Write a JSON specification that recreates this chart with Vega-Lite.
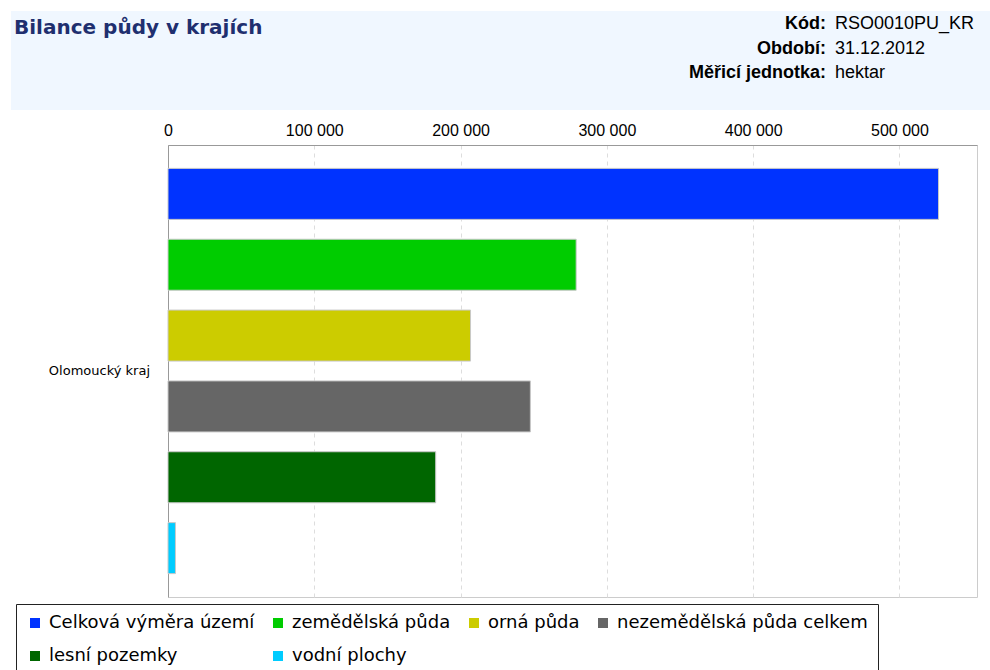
{
  "$schema": "https://vega.github.io/schema/vega-lite/v6.json",
  "padding": {"left": 11, "top": 11, "right": 0, "bottom": 0},
  "background": "white",
  "spacing": 11,
  "resolve": {"legend": {"color": "independent"}},
  "config": {"view": {"stroke": null}},
  "datasets": {
    "bilance": [
      {"kraj": "Olomoucký kraj", "ukazatel": "Celková výměra území", "hodnota": 526700},
      {"kraj": "Olomoucký kraj", "ukazatel": "zemědělská půda", "hodnota": 279000},
      {"kraj": "Olomoucký kraj", "ukazatel": "orná půda", "hodnota": 206800},
      {"kraj": "Olomoucký kraj", "ukazatel": "nezemědělská půda celkem", "hodnota": 247700},
      {"kraj": "Olomoucký kraj", "ukazatel": "lesní pozemky", "hodnota": 183000},
      {"kraj": "Olomoucký kraj", "ukazatel": "vodní plochy", "hodnota": 5100}
    ]
  },
  "vconcat": [
    {
      "width": 979,
      "height": 99,
      "view": {"fill": "#f0f7ff", "stroke": null},
      "layer": [
        {
          "data": {"values": [{"nazev": "Bilance půdy v krajích"}]},
          "mark": {"type": "text", "align": "left", "baseline": "middle", "font": "DejaVu Sans", "fontSize": 20, "fontWeight": "bold", "color": "#1f2f6f"},
          "encoding": {"x": {"value": 3}, "y": {"value": 17}, "text": {"field": "nazev"}}
        },
        {
          "data": {"values": [
            {"line": 1, "label": "Kód:", "value": "RSO0010PU_KR"},
            {"line": 2, "label": "Období:", "value": "31.12.2012"},
            {"line": 3, "label": "Měřicí jednotka:", "value": "hektar"}
          ]},
          "encoding": {"y": {"field": "line", "type": "ordinal", "scale": {"type": "point", "range": [13, 62], "padding": 0}, "axis": null}},
          "layer": [
            {"mark": {"type": "text", "align": "right", "baseline": "middle", "font": "Liberation Sans", "fontSize": 18, "fontWeight": "bold", "color": "#000000"},
             "encoding": {"x": {"value": 815}, "text": {"field": "label"}}},
            {"mark": {"type": "text", "align": "left", "baseline": "middle", "font": "Liberation Sans", "fontSize": 18, "color": "#000000"},
             "encoding": {"x": {"value": 824}, "text": {"field": "value"}}}
          ]
        }
      ]
    },
    {
      "resolve": {"legend": {"color": "independent"}},
      "bounds": "flush",
      "spacing": 18,
      "hconcat": [
        {
          "width": 139,
          "height": 452,
          "view": {"stroke": null, "fill": null},
          "data": {"name": "bilance"},
          "transform": [{"aggregate": [{"op": "count", "as": "n"}], "groupby": ["kraj"]}],
          "mark": {"type": "text", "align": "right", "baseline": "middle", "font": "DejaVu Sans", "fontSize": 13, "color": "#000000"},
          "encoding": {
            "x": {"value": "width"},
            "y": {"field": "kraj", "type": "nominal", "scale": {"paddingInner": 0, "paddingOuter": 0}, "axis": null},
            "text": {"field": "kraj"}
          }
        },
        {
          "width": 809,
          "height": 452,
          "view": {"stroke": "#cccccc", "fill": "white"},
          "data": {"name": "bilance"},
          "mark": {"type": "bar", "stroke": "#c8c8c8", "strokeWidth": 1},
          "encoding": {
            "x": {"field": "hodnota", "type": "quantitative",
              "scale": {"domain": [0, 553000], "nice": false},
              "axis": {"orient": "top", "values": [0, 100000, 200000, 300000, 400000, 500000], "title": null,
                "labelExpr": "replace(format(datum.value, ','), ',', ' ')",
                "grid": true, "gridDash": [4, 4], "gridColor": "#dddddd", "ticks": false,
                "domainColor": "#999999", "labelFont": "Liberation Sans", "labelFontSize": 16, "labelColor": "#000000",
                "labelPadding": 7, "labelFlush": false}},
            "y": {"field": "kraj", "type": "nominal", "scale": {"paddingInner": 0, "paddingOuter": 0},
              "axis": {"title": null, "ticks": false, "labels": false, "domainColor": "#999999"}},
            "yOffset": {"field": "ukazatel", "type": "nominal",
              "sort": ["Celková výměra území", "zemědělská půda", "orná půda", "nezemědělská půda celkem", "lesní pozemky", "vodní plochy"],
              "scale": {"paddingInner": 0.28, "paddingOuter": 0.33}},
            "color": {"field": "ukazatel", "type": "nominal",
              "scale": {"domain": ["Celková výměra území", "zemědělská půda", "orná půda", "nezemědělská půda celkem", "lesní pozemky", "vodní plochy"],
                        "range": ["#0033ff", "#00cc00", "#cccc00", "#666666", "#006600", "#00ccff"]},
              "legend": {"title": null, "orient": "none", "legendX": -152, "legendY": 459, "direction": "horizontal", "columns": 4,
                "symbolType": "square", "symbolSize": 100, "symbolStrokeWidth": 0,
                "labelFont": "DejaVu Sans", "labelFontSize": 18, "labelColor": "#000000", "labelOffset": 5, "labelLimit": 400,
                "columnPadding": 14, "rowPadding": 15, "padding": 10, "strokeColor": "#222222", "fillColor": "white"}}
          }
        }
      ]
    }
  ]
}
